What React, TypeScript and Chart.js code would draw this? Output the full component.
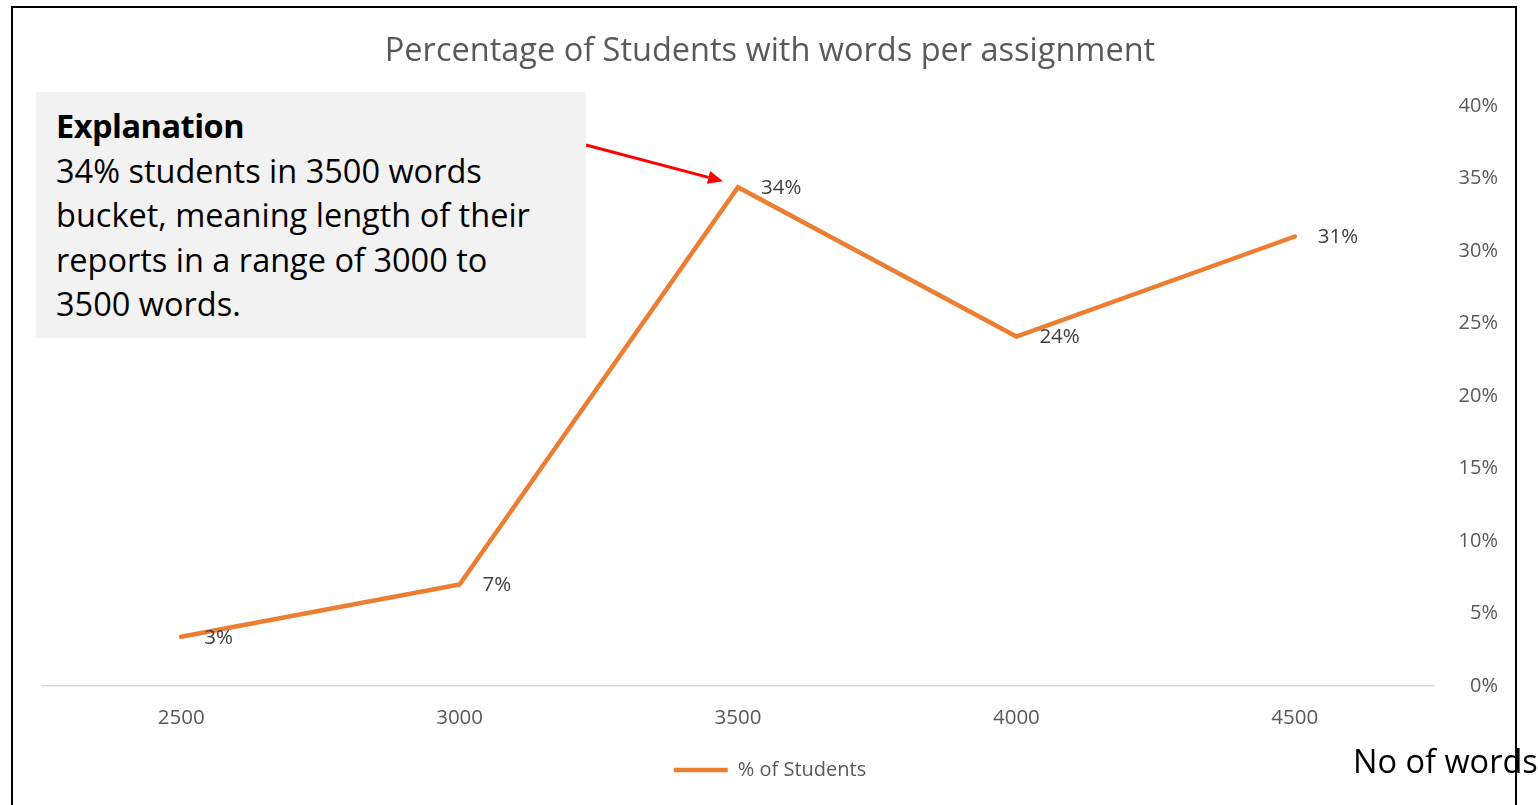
import React, { useEffect, useRef } from "react";
import { Chart, registerables } from "chart.js";

Chart.register(...registerables);

// ---- data ----
const categories: string[] = ["2500", "3000", "3500", "4000", "4500"];
const studentPct: number[] = [3.4, 7.0, 34.4, 24.1, 31.0];
const yMin = 0;
const yMax = 40;
const yStep = 5;
const seriesLabel = "% of Students";
const chartTitle = "Percentage of Students with words per assignment";
const explanationTitle = "Explanation";
const explanationLines: string[] = [
  "34% students in 3500 words",
  "bucket, meaning length of their",
  "reports in a range of 3000 to",
  "3500 words.",
];
const xAxisTitle = "No of words";
const highlightIndex = 2;

const FONT = "'Open Sans', 'DejaVu Sans', sans-serif";
const ORANGE = "#ed7d31";
const GREY_TEXT = "#595959";

const dataLabelPlugin = {
  id: "dataLabelPlugin",
  afterDatasetsDraw(chart: any) {
    const meta = chart.getDatasetMeta(0);
    const ctx = chart.ctx;
    ctx.save();
    ctx.font = `20.5px ${FONT}`;
    ctx.fillStyle = "#404040";
    ctx.textAlign = "left";
    ctx.textBaseline = "middle";
    meta.data.forEach((pt: any, i: number) => {
      const v = chart.data.datasets[0].data[i];
      ctx.fillText(`${Math.round(v)}%`, pt.x + 23, pt.y + 1);
    });
    ctx.restore();
  },
};

const arrowPlugin = {
  id: "arrowPlugin",
  afterDraw(chart: any) {
    const meta = chart.getDatasetMeta(0);
    const pt = meta.data[highlightIndex];
    if (!pt) return;
    const ctx = chart.ctx;
    const sx = 586;
    const sy = 145;
    const tx = pt.x - 15;
    const ty = pt.y - 6;
    const ang = Math.atan2(ty - sy, tx - sx);
    const headLen = 15;
    const headW = 6.5;
    const bx = tx - headLen * Math.cos(ang);
    const by = ty - headLen * Math.sin(ang);
    ctx.save();
    ctx.strokeStyle = "#ff0000";
    ctx.fillStyle = "#ff0000";
    ctx.lineWidth = 3;
    ctx.beginPath();
    ctx.moveTo(sx, sy);
    ctx.lineTo(bx, by);
    ctx.stroke();
    ctx.beginPath();
    ctx.moveTo(tx, ty);
    ctx.lineTo(bx + headW * Math.sin(ang), by - headW * Math.cos(ang));
    ctx.lineTo(bx - headW * Math.sin(ang), by + headW * Math.cos(ang));
    ctx.closePath();
    ctx.fill();
    ctx.restore();
  },
};

export default function App() {
  const canvasRef = useRef<HTMLCanvasElement | null>(null);

  useEffect(() => {
    if (!canvasRef.current) return;
    const chart = new Chart(canvasRef.current, {
      type: "line",
      data: {
        labels: categories,
        datasets: [
          {
            label: seriesLabel,
            data: studentPct,
            borderColor: ORANGE,
            backgroundColor: ORANGE,
            borderWidth: 4.5,
            borderCapStyle: "round",
            borderJoinStyle: "miter",
            pointRadius: 0,
            pointHoverRadius: 0,
            tension: 0,
          },
        ],
      },
      options: {
        animation: false,
        responsive: true,
        maintainAspectRatio: false,
        layout: { padding: { left: 42, right: 40, top: 0, bottom: 15 } },
        plugins: {
          title: {
            display: true,
            text: chartTitle,
            color: GREY_TEXT,
            font: { family: FONT, size: 32.5, weight: "normal" },
            padding: { top: 32, bottom: 35 },
          },
          legend: {
            display: true,
            position: "bottom",
            labels: {
              usePointStyle: true,
              pointStyleWidth: 54,
              pointStyle: "line",
              boxHeight: 20,
              color: GREY_TEXT,
              font: { family: FONT, size: 20 },
              padding: 10,
            },
          },
          tooltip: { enabled: false },
        },
        scales: {
          x: {
            type: "category",
            offset: true,
            grid: { display: false },
            border: { display: true, color: "#d9d9d9", width: 1.5 },
            ticks: {
              color: GREY_TEXT,
              font: { family: FONT, size: 20.5 },
              padding: 12,
              maxRotation: 0,
            },
            afterFit: (s: any) => {
              s.height = 64;
            },
          },
          y: {
            position: "right",
            min: yMin,
            max: yMax,
            grid: { display: false },
            border: { display: false },
            ticks: {
              stepSize: yStep,
              color: GREY_TEXT,
              font: { family: FONT, size: 20 },
              crossAlign: "far",
              callback: (v: any) => `${v}%`,
            },
            afterFit: (s: any) => {
              s.width = 64;
            },
          },
        },
      },
      plugins: [dataLabelPlugin, arrowPlugin],
    } as any);
    return () => chart.destroy();
  }, []);

  return (
    <div
      style={{
        position: "fixed",
        left: 0,
        top: 0,
        width: 1538,
        height: 805,
        overflow: "hidden",
        background: "#ffffff",
        fontFamily: FONT,
      }}
    >
      <div style={{ position: "absolute", left: 0, top: 0, width: 1538, height: 805 }}>
        <canvas ref={canvasRef} />
      </div>
      <div
        style={{
          position: "absolute",
          left: 36,
          top: 92,
          width: 550,
          height: 246,
          background: "#f2f2f2",
          boxSizing: "border-box",
          padding: "12px 0 0 20px",
          color: "#000000",
          fontSize: 32.5,
          lineHeight: "44.5px",
          whiteSpace: "nowrap",
        }}
      >
        <div style={{ fontWeight: "bold", letterSpacing: "-0.5px" }}>{explanationTitle}</div>
        {explanationLines.map((l, i) => (
          <div key={i}>{l}</div>
        ))}
      </div>
      <div
        style={{
          position: "absolute",
          left: 1353,
          top: 741,
          fontSize: 32.5,
          lineHeight: "40px",
          color: "#000000",
          whiteSpace: "nowrap",
        }}
      >
        {xAxisTitle}
      </div>
      <div
        style={{
          position: "absolute",
          left: 11,
          top: 6,
          width: 1506,
          height: 820,
          border: "2px solid #000000",
          boxSizing: "border-box",
          pointerEvents: "none",
        }}
      />
    </div>
  );
}
